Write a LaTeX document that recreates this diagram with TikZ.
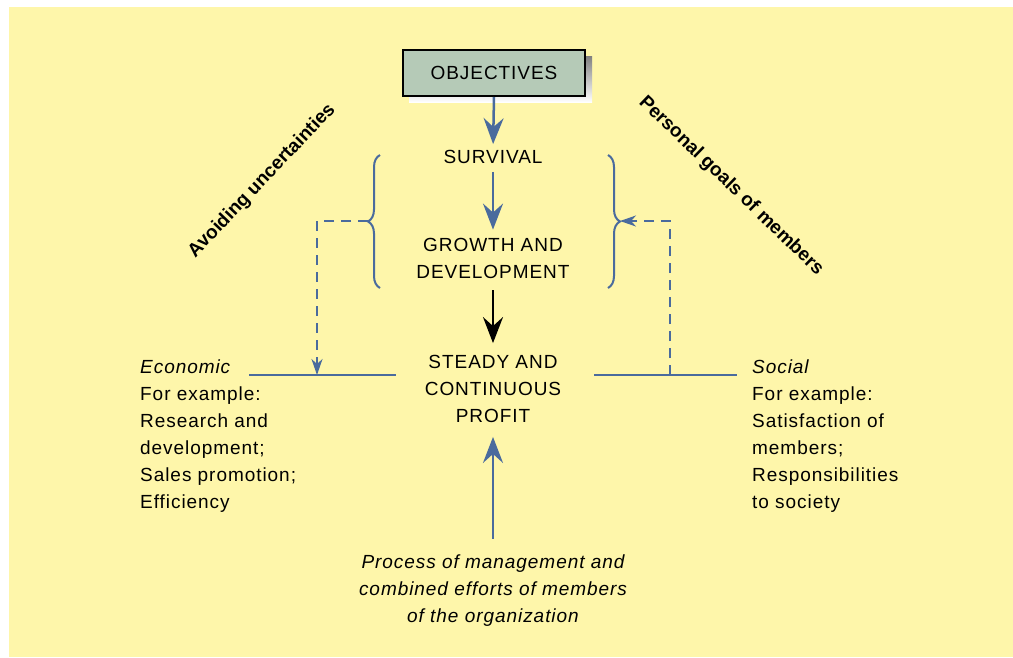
\documentclass[tikz,border=0pt]{standalone}
\usepackage{fontspec}
\setmainfont{Liberation Sans}[LetterSpace=5]
\newfontfamily\labelfont{Liberation Sans}
\usetikzlibrary{arrows.meta,decorations.pathreplacing}
\definecolor{bg}{HTML}{FEF6AA}
\definecolor{linkblue}{HTML}{4A6B9D}
\definecolor{boxfill}{HTML}{B5CAB7}
\definecolor{shade}{HTML}{E3D38C}
\begin{document}
\begin{tikzpicture}[x=1pt,y=-1pt,
  txt/.style={font=\fontsize{19}{27}\selectfont, inner sep=0pt, align=center},
  sidetxt/.style={txt, align=left, anchor=north west},
  slanted/.style={font=\labelfont\fontsize{19}{23}\selectfont\bfseries, inner sep=0pt},
  flow/.style={draw=linkblue, line width=2.5pt},
  rule/.style={draw=linkblue, line width=2pt},
  dashlink/.style={draw=linkblue, line width=2pt, dash pattern=on 10pt off 7pt},
  bigtip/.style={-{Stealth[length=26pt,width=20pt,inset=9pt]}},
  smalltip/.style={-{Stealth[length=16pt,width=11pt,inset=5pt]}},
  bracket/.style={draw=linkblue, line width=2pt, decorate, decoration={brace, amplitude=12pt}},
]
\useasboundingbox (0,0) rectangle (1013,657);
\fill[white] (0,0) rectangle (1013,657);
\fill[bg] (9,7) rectangle (1013,657);

% objectives box with its shadow
\fill[shade] (409,56) rectangle (592,102);
\node[draw, line width=2pt, fill=boxfill, minimum width=182pt, minimum height=46pt,
      font=\fontsize{19}{23}\selectfont, inner sep=0pt] (obj) at (494,73) {OBJECTIVES};

% central chain
\node[txt] (surv) at (493,157) {SURVIVAL};
\node[txt] (growth) at (493,258) {GROWTH AND\\DEVELOPMENT};
\node[txt] (profit) at (493,389) {STEADY AND\\CONTINUOUS\\PROFIT};
\node[txt, font=\fontsize{19}{27}\selectfont\itshape] (process) at (493,591)
  {Process of management and\\combined efforts of members\\of the organization};

\draw[flow, bigtip, shorten >=6pt] (obj.south) -- (surv.north);
\draw[flow, bigtip, shorten <=8pt, shorten >=8pt] (surv.south) -- (growth.north);
\draw[draw=black, line width=2.5pt, bigtip, shorten <=12pt, shorten >=12pt] (growth.south) -- (profit.north);
\draw[flow, bigtip, shorten <=16pt, shorten >=14pt] (process.north) -- (profit.south);

% braces around the first two stages
\coordinate (lb1) at (380,288);
\coordinate (lb2) at (380,155);
\coordinate (rb1) at (608,155);
\coordinate (rb2) at (608,288);
\draw[bracket] (lb1) -- (lb2);
\draw[bracket] (rb1) -- (rb2);
\coordinate (ltip) at (368,221);
\coordinate (rtip) at (620,221);

% horizontal rules beside the profit stage
\coordinate (l1) at (249,375);
\coordinate (l2) at (396,375);
\coordinate (r1) at (594,375);
\coordinate (r2) at (737,375);
\draw[rule] (l1) -- (l2);
\draw[rule] (r1) -- (r2);

% dashed feedback links
\coordinate (lfoot) at (317,375);
\coordinate (rfoot) at (670,375);
\draw[dashlink, smalltip] (ltip) -| (lfoot);
\draw[dashlink, smalltip] (rfoot) |- (rtip);

% side texts
\node[sidetxt] (econ) at (140,360)
  {\textit{Economic}\\For example:\\Research and\\development;\\Sales promotion;\\Efficiency};
\node[sidetxt] (social) at (752,360)
  {\textit{Social}\\For example:\\Satisfaction of\\members;\\Responsibilities\\to society};

% slanted labels
\node[slanted, rotate=46.5] (avoid) at (262,181) {Avoiding uncertainties};
\node[slanted, rotate=-44] (personal) at (731,186) {Personal goals of members};
\end{tikzpicture}
\end{document}
